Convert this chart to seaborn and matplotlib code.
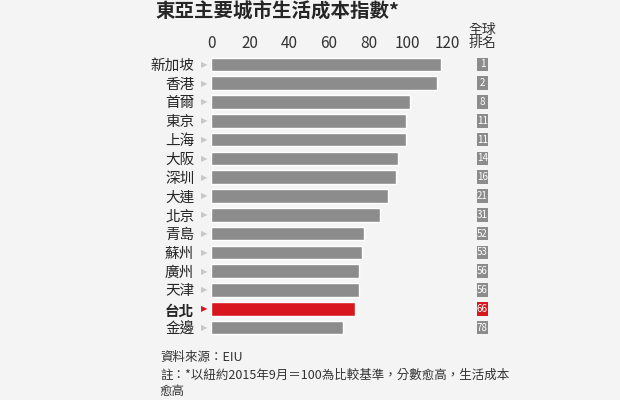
import matplotlib
matplotlib.use('Agg')
import matplotlib.pyplot as plt
from matplotlib.patches import Rectangle
import seaborn as sns
import pandas as pd

cities = ["新加坡", "香港", "首爾", "東京", "上海", "大阪", "深圳", "大連", "北京",
          "青島", "蘇州", "廣州", "天津", "台北", "金邊"]
index_values = [117, 115, 101, 99, 99, 95, 94, 90, 86, 78, 77, 75, 75, 73, 67]
world_rank = [1, 2, 8, 11, 11, 14, 16, 21, 31, 52, 53, 56, 56, 66, 78]
x_ticks = [0, 20, 40, 60, 80, 100, 120]

GRAY = "#8c8c8c"
RED = "#d7161d"
BG = "#f4f4f4"

sns.set_style("white")
plt.rcParams['font.family'] = ['Noto Sans CJK TC', 'DejaVu Sans']

df = pd.DataFrame({"city": cities, "value": index_values, "rank": world_rank})
colors = [RED if c == "台北" else GRAY for c in cities]

W, H = 620, 400
fig = plt.figure(figsize=(W / 100, H / 100), dpi=100, facecolor=BG)
ax = fig.add_axes([211 / W, 1 - 337 / H, 236 / W, 282 / H])
ax.set_facecolor(BG)

sns.barplot(data=df, y="city", x="value", hue="city", palette=colors,
            legend=False, width=0.72, ax=ax, saturation=1)

ax.set_xlim(0, 120)
ax.set_xticks(x_ticks)
ax.xaxis.tick_top()
ax.tick_params(axis='x', length=0, labelsize=11, colors="#333333", pad=2)
ax.tick_params(axis='y', length=0, labelsize=10.5, pad=12)
ax.set_xlabel("")
ax.set_ylabel("")
for s in ax.spines.values():
    s.set_visible(False)

for i, (c, r) in enumerate(zip(cities, world_rank)):
    red = c == "台北"
    lbl = ax.get_yticklabels()[i]
    if red:
        lbl.set_fontweight("bold")
    ax.text(-3.5, i, "▶", ha="center", va="center", fontsize=6,
            color=RED if red else "#c8c8c8", family="DejaVu Sans")
    ax.add_patch(Rectangle((135.3, i - 0.36), 5.4, 0.72, fc=RED if red else GRAY,
                           ec="none", clip_on=False))
    ax.text(138, i, str(r), ha="center", va="center", fontsize=7, color="white")

ax.text(138, -0.75, "全球\n排名", ha="center", va="bottom", fontsize=10,
        color="#333333", linespacing=0.95)

fig.text(155 / W, 1 - 12 / H, "東亞主要城市生活成本指數*", fontsize=14,
         fontweight="bold", va="center", ha="left")
fig.text(160 / W, 1 - 358 / H, "資料來源：EIU", fontsize=9, va="center", color="#333333")
fig.text(160 / W, 1 - 375 / H, "註：*以紐約2015年9月＝100為比較基準，分數愈高，生活成本",
         fontsize=9, va="center", color="#333333")
fig.text(160 / W, 1 - 391 / H, "愈高", fontsize=9, va="center", color="#333333")

fig.savefig("out.png", dpi=100, facecolor=BG)
